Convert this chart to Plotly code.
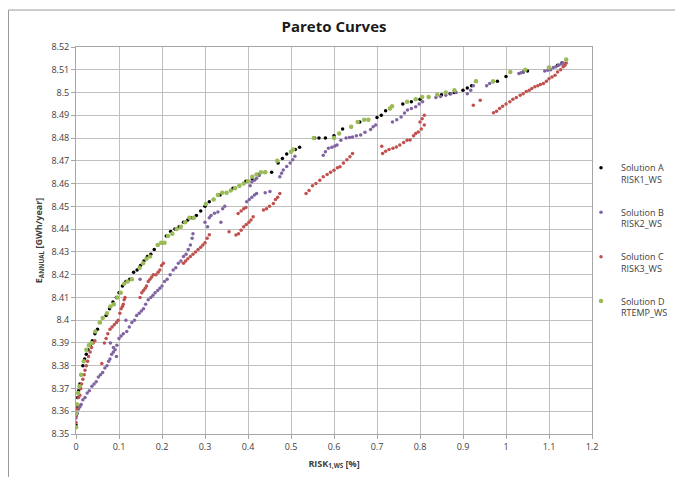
import plotly.graph_objects as go

# ---------------- data ----------------
series_names = ["Solution A<br>RISK1_WS", "Solution B<br>RISK2_WS",
                "Solution C<br>RISK3_WS", "Solution D<br>RTEMP_WS"]

a_x = [0.0, 0.0, 0.002, 0.004, 0.006, 0.009, 0.012, 0.016, 0.02, 0.024, 0.028, 0.033, 0.038, 0.044, 0.05, 0.056,
       0.062, 0.07, 0.078, 0.086, 0.094, 0.1, 0.108, 0.116, 0.125, 0.134, 0.142, 0.15, 0.158, 0.166, 0.174, 0.182,
       0.19, 0.2, 0.21, 0.22, 0.23, 0.24, 0.25, 0.26, 0.27, 0.28, 0.29, 0.3, 0.31, 0.32, 0.335, 0.35, 0.365, 0.38,
       0.395, 0.41, 0.425, 0.44, 0.455, 0.47, 0.48, 0.49, 0.5, 0.51, 0.52, 0.555, 0.565, 0.58, 0.6, 0.62, 0.64, 0.66,
       0.68, 0.7, 0.71, 0.72, 0.73, 0.76, 0.78, 0.8, 0.82, 0.85, 0.87, 0.88, 0.9, 0.91, 0.92, 0.93, 0.98, 1.0, 1.04,
       1.05, 1.1, 1.12, 1.13]
a_y = [8.354, 8.358, 8.362, 8.366, 8.369, 8.372, 8.376, 8.380, 8.383, 8.385, 8.387, 8.389, 8.391, 8.394, 8.396, 8.399,
       8.401, 8.402, 8.405, 8.408, 8.410, 8.412, 8.415, 8.417, 8.418, 8.421, 8.422, 8.424, 8.426, 8.428, 8.429, 8.431,
       8.433, 8.434, 8.437, 8.439, 8.440, 8.441, 8.443, 8.444, 8.445, 8.446, 8.448, 8.450, 8.452, 8.453, 8.455, 8.456,
       8.458, 8.459, 8.461, 8.462, 8.464, 8.465, 8.465, 8.469, 8.471, 8.473, 8.474, 8.475, 8.476, 8.480, 8.480, 8.480,
       8.481, 8.484, 8.485, 8.487, 8.488, 8.489, 8.490, 8.492, 8.493, 8.495, 8.496, 8.497, 8.498, 8.499, 8.4995, 8.500,
       8.501, 8.502, 8.503, 8.505, 8.505, 8.507, 8.509, 8.5095, 8.511, 8.512, 8.513]

b_x = [0.0, 0.003, 0.006, 0.009, 0.012, 0.016, 0.021, 0.026, 0.031, 0.037, 0.042, 0.047, 0.052, 0.057, 0.062, 0.067,
       0.072, 0.076, 0.079, 0.083, 0.087, 0.091, 0.095, 0.08, 0.087, 0.094, 0.1, 0.105, 0.11, 0.116, 0.118, 0.124,
       0.13, 0.136, 0.141, 0.147, 0.152, 0.157, 0.162, 0.168, 0.149, 0.174, 0.179, 0.184, 0.19, 0.195, 0.2, 0.206,
       0.212, 0.219, 0.226, 0.232, 0.238, 0.244, 0.25, 0.256, 0.261, 0.266, 0.27, 0.272, 0.3, 0.306, 0.31, 0.314,
       0.322, 0.33, 0.337, 0.341, 0.346, 0.397, 0.403, 0.409, 0.415, 0.42, 0.44, 0.451, 0.405, 0.409, 0.415, 0.42,
       0.426, 0.474, 0.478, 0.482, 0.49, 0.498, 0.504, 0.509, 0.575, 0.58, 0.587, 0.595, 0.602, 0.607, 0.616, 0.628,
       0.636, 0.643, 0.652, 0.662, 0.672, 0.685, 0.691, 0.697, 0.736, 0.746, 0.756, 0.764, 0.771, 0.78, 0.79, 0.798,
       0.806, 0.837, 0.848, 0.86, 0.872, 0.884, 0.91, 0.918, 0.924, 0.955, 0.962, 0.97, 1.03, 1.035, 1.04, 1.09,
       1.097, 1.104, 1.11, 1.116, 1.122, 1.128, 1.133]
b_y = [8.357, 8.359, 8.361, 8.362, 8.363, 8.365, 8.366, 8.368, 8.369, 8.371, 8.372, 8.373, 8.375, 8.376, 8.377, 8.379,
       8.380, 8.382, 8.383, 8.385, 8.386, 8.387, 8.389, 8.390, 8.388, 8.384, 8.392, 8.393, 8.394, 8.400, 8.395, 8.397,
       8.399, 8.400, 8.402, 8.403, 8.404, 8.405, 8.407, 8.409, 8.418, 8.410, 8.411, 8.412, 8.413, 8.414, 8.415, 8.417,
       8.418, 8.420, 8.422, 8.423, 8.425, 8.426, 8.428, 8.429, 8.431, 8.433, 8.436, 8.438, 8.443, 8.441, 8.445, 8.446,
       8.447, 8.4475, 8.443, 8.449, 8.450, 8.452, 8.453, 8.454, 8.455, 8.4557, 8.456, 8.4565, 8.459, 8.4608, 8.4615,
       8.4623, 8.4635, 8.463, 8.4645, 8.466, 8.4675, 8.469, 8.4705, 8.472, 8.4725, 8.474, 8.4755, 8.476, 8.4765,
       8.477, 8.479, 8.480, 8.4802, 8.4805, 8.481, 8.4813, 8.4825, 8.4838, 8.485, 8.4857, 8.4871, 8.488, 8.4893,
       8.491, 8.4923, 8.493, 8.4937, 8.495, 8.4959, 8.4978, 8.4983, 8.4988, 8.4995, 8.500, 8.4995, 8.501, 8.503,
       8.503, 8.504, 8.5047, 8.5084, 8.5087, 8.509, 8.5095, 8.5098, 8.510, 8.511, 8.5113, 8.512, 8.5125, 8.513]

c_x = [0.0, 0.0, 0.002, 0.004, 0.006, 0.009, 0.011, 0.013, 0.016, 0.019, 0.021, 0.024, 0.027, 0.029, 0.033, 0.036,
       0.04, 0.044, 0.06, 0.066, 0.07, 0.074, 0.079, 0.084, 0.089, 0.094, 0.098, 0.102, 0.105, 0.108, 0.11, 0.112,
       0.114, 0.149, 0.153, 0.157, 0.161, 0.164, 0.168, 0.172, 0.176, 0.18, 0.186, 0.191, 0.195, 0.199, 0.203, 0.25,
       0.255, 0.26, 0.266, 0.272, 0.278, 0.284, 0.29, 0.295, 0.3, 0.305, 0.31, 0.356, 0.372, 0.378, 0.384, 0.39,
       0.396, 0.402, 0.407, 0.412, 0.377, 0.384, 0.39, 0.395, 0.436, 0.443, 0.45, 0.459, 0.464, 0.469, 0.474, 0.535,
       0.542, 0.55, 0.558, 0.567, 0.575, 0.584, 0.592, 0.6, 0.608, 0.614, 0.622, 0.63, 0.637, 0.643, 0.711, 0.713,
       0.72, 0.728, 0.737, 0.745, 0.753, 0.762, 0.77, 0.777, 0.785, 0.79, 0.796, 0.803, 0.81, 0.8, 0.805, 0.81, 0.924,
       0.94, 0.971, 0.978, 0.985, 0.992, 1.0, 1.009, 1.016, 1.024, 1.033, 1.04, 1.047, 1.054, 1.06, 1.067, 1.074,
       1.08, 1.087, 1.094, 1.1, 1.107, 1.114, 1.12, 1.127, 1.133, 1.137, 1.14]
c_y = [8.355, 8.358, 8.361, 8.363, 8.366, 8.367, 8.370, 8.372, 8.374, 8.376, 8.378, 8.380, 8.382, 8.384, 8.386, 8.388,
       8.390, 8.391, 8.381, 8.390, 8.392, 8.394, 8.396, 8.397, 8.398, 8.399, 8.400, 8.403, 8.405, 8.406, 8.407, 8.409,
       8.410, 8.410, 8.412, 8.413, 8.414, 8.415, 8.417, 8.418, 8.419, 8.420, 8.420, 8.421, 8.422, 8.424, 8.425, 8.425,
       8.426, 8.427, 8.428, 8.429, 8.430, 8.431, 8.432, 8.433, 8.434, 8.436, 8.4375, 8.4388, 8.4374, 8.438, 8.4395,
       8.441, 8.442, 8.443, 8.444, 8.4454, 8.4469, 8.448, 8.449, 8.4495, 8.4484, 8.449, 8.450, 8.4513, 8.453, 8.454,
       8.4557, 8.4557, 8.457, 8.459, 8.460, 8.4615, 8.463, 8.464, 8.465, 8.4659, 8.467, 8.4674, 8.469, 8.4705, 8.4718,
       8.4732, 8.4764, 8.4732, 8.4742, 8.475, 8.4755, 8.4761, 8.477, 8.478, 8.479, 8.4791, 8.481, 8.482, 8.4827,
       8.484, 8.4857, 8.487, 8.4885, 8.490, 8.4944, 8.4966, 8.4911, 8.4918, 8.493, 8.494, 8.495, 8.4959, 8.497,
       8.4978, 8.4988, 8.4995, 8.5005, 8.501, 8.5018, 8.5025, 8.503, 8.5035, 8.504, 8.505, 8.506, 8.5068, 8.5076,
       8.509, 8.510, 8.5113, 8.512, 8.513]

d_x = [0.0, 0.0, 0.002, 0.005, 0.008, 0.012, 0.018, 0.024, 0.03, 0.036, 0.045, 0.055, 0.062, 0.072, 0.08, 0.088,
       0.096, 0.104, 0.112, 0.12, 0.13, 0.148, 0.156, 0.164, 0.172, 0.19, 0.198, 0.206, 0.214, 0.224, 0.234, 0.244,
       0.254, 0.264, 0.274, 0.302, 0.32, 0.33, 0.34, 0.35, 0.36, 0.37, 0.38, 0.39, 0.4, 0.41, 0.42, 0.43, 0.44, 0.468,
       0.5, 0.505, 0.553, 0.6, 0.612, 0.64, 0.655, 0.67, 0.68, 0.73, 0.735, 0.77, 0.79, 0.805, 0.82, 0.84, 0.86, 0.88,
       0.93, 0.97, 1.01, 1.045, 1.1, 1.14]
d_y = [8.353, 8.359, 8.363, 8.368, 8.371, 8.376, 8.382, 8.387, 8.389, 8.390, 8.395, 8.399, 8.401, 8.403, 8.406, 8.407,
       8.410, 8.412, 8.416, 8.417, 8.418, 8.423, 8.425, 8.427, 8.428, 8.433, 8.434, 8.434, 8.437, 8.438, 8.440, 8.441,
       8.443, 8.445, 8.445, 8.451, 8.453, 8.455, 8.456, 8.456, 8.457, 8.458, 8.459, 8.460, 8.461, 8.463, 8.464, 8.465,
       8.465, 8.470, 8.474, 8.475, 8.480, 8.480, 8.482, 8.485, 8.487, 8.488, 8.488, 8.493, 8.494, 8.496, 8.497, 8.498,
       8.498, 8.499, 8.500, 8.501, 8.505, 8.505, 8.509, 8.510, 8.511, 8.5145]

x_tickvals = [0, 0.1, 0.2, 0.3, 0.4, 0.5, 0.6, 0.7, 0.8, 0.9, 1.0, 1.1, 1.2]
x_ticktext = ["0", "0.1", "0.2", "0.3", "0.4", "0.5", "0.6", "0.7", "0.8", "0.9", "1", "1.1", "1.2"]
y_tickvals = [8.35, 8.36, 8.37, 8.38, 8.39, 8.40, 8.41, 8.42, 8.43, 8.44, 8.45, 8.46, 8.47, 8.48, 8.49, 8.50, 8.51, 8.52]
y_ticktext = ["8.35", "8.36", "8.37", "8.38", "8.39", "8.4", "8.41", "8.42", "8.43", "8.44", "8.45", "8.46",
              "8.47", "8.48", "8.49", "8.5", "8.51", "8.52"]

# ---------------- figure ----------------
colors = ["#000000", "#8064A2", "#C0504D", "#9BBB59"]
sizes = [3.5, 3.5, 3.5, 4.5]
xs = [a_x, b_x, c_x, d_x]
ys = [a_y, b_y, c_y, d_y]

fig = go.Figure()
for i, (name, x, y, col, sz) in enumerate(zip(series_names, xs, ys, colors, sizes)):
    fig.add_trace(go.Scatter(x=x, y=y, mode="markers", name=name, legendgroup="g%d" % i,
                             marker=dict(color=col, size=sz, line=dict(width=0))))

# the page body adds an 8px offset, so margins are reduced on the left/top
ML, MT, PW, PH = 68, 39, 516, 387
font_family = "Open Sans, Liberation Sans, Arial, sans-serif"
fig.update_layout(
    width=683, height=477,
    margin=dict(l=ML, r=683 - ML - PW, t=MT, b=477 - MT - PH, autoexpand=False),
    paper_bgcolor="white", plot_bgcolor="white",
    font=dict(family=font_family, color="#404040", size=9),
    title=dict(text="<b>Pareto Curves</b>", x=0.5, xref="paper", xanchor="center",
               y=1 - 19 / 477, yref="container", yanchor="middle",
               font=dict(size=15, color="#1a1a1a", family=font_family)),
    showlegend=True,
    legend=dict(x=(573 - ML) / PW, xanchor="left", y=0.5, yanchor="middle", valign="top",
                font=dict(size=9, color="#404040"), tracegroupgap=18,
                bgcolor="rgba(0,0,0,0)", itemwidth=30),
    xaxis=dict(range=[0, 1.2], tickvals=x_tickvals, ticktext=x_ticktext, automargin=False,
               showgrid=True, gridcolor="#BFBFBF", gridwidth=1,
               showline=True, linecolor="#A6A6A6", linewidth=1, mirror=True,
               ticks="outside", ticklen=4, tickcolor="#A6A6A6",
               tickfont=dict(size=9, color="#404040"), zeroline=False,
               title=dict(text="<b>RISK<sub>1,WS</sub> [%]</b>", font=dict(size=9, color="#404040"),
                          standoff=8)),
    yaxis=dict(range=[8.35, 8.52], tickvals=y_tickvals, ticktext=y_ticktext, automargin=False,
               showgrid=True, gridcolor="#BFBFBF", gridwidth=1,
               showline=True, linecolor="#A6A6A6", linewidth=1, mirror=True,
               ticks="outside", ticklen=4, tickcolor="#A6A6A6",
               tickfont=dict(size=9, color="#404040"), zeroline=False,
               title=dict(text="<b>E<sub>ANNUAL</sub> [GWh/year]</b>", font=dict(size=9, color="#404040"),
                          standoff=7)),
)

# outer chart-area border
fig.add_shape(type="rect", xref="paper", yref="paper",
              x0=(0.5 - ML) / PW, x1=(720 - ML) / PW,
              y0=(MT + PH - 520) / PH, y1=(MT + PH - 2) / PH,
              line=dict(color="#9a9a9a", width=1), fillcolor="rgba(0,0,0,0)", layer="below")

fig.write_html("out.html")
